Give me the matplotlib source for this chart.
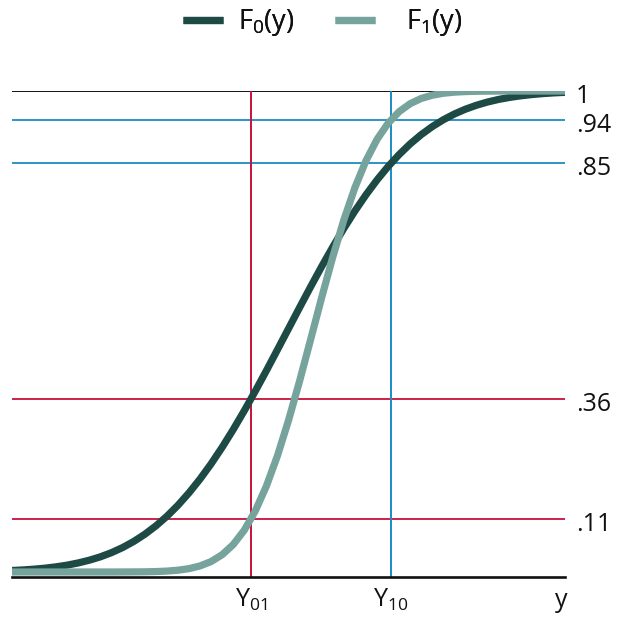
import matplotlib
matplotlib.use("Agg")
import matplotlib.pyplot as plt

plt.rcParams['font.family'] = ['Open Sans', 'DejaVu Sans']
plt.rcParams['mathtext.default'] = 'regular'

# x positions (arbitrary units, 0..10)
x = [round(i * 0.2, 1) for i in range(51)]

F0 = [0.0031, 0.0043, 0.0059, 0.0080, 0.0108, 0.0143, 0.0189, 0.0246,
      0.0316, 0.0403, 0.0508, 0.0634, 0.0783, 0.0957, 0.1157, 0.1386,
      0.1645, 0.1932, 0.2248, 0.2592, 0.2961, 0.3352, 0.3762, 0.4186,
      0.4621, 0.5059, 0.5497, 0.5929, 0.6351, 0.6756, 0.7141, 0.7504,
      0.7840, 0.8149, 0.8428, 0.8678, 0.8900, 0.9093, 0.9260, 0.9402,
      0.9522, 0.9622, 0.9704, 0.9771, 0.9825, 0.9867, 0.9900, 0.9926,
      0.9946, 0.9961, 0.9972]

F1 = [0.0000, 0.0000, 0.0000, 0.0000, 0.0000, 0.0000, 0.0000, 0.0000,
      0.0000, 0.0000, 0.0001, 0.0002, 0.0004, 0.0009, 0.0019, 0.0037,
      0.0070, 0.0126, 0.0217, 0.0359, 0.0570, 0.0868, 0.1270, 0.1786,
      0.2416, 0.3151, 0.3968, 0.4833, 0.5706, 0.6546, 0.7316, 0.7988,
      0.8548, 0.8992, 0.9328, 0.9570, 0.9736, 0.9845, 0.9912, 0.9953,
      0.9976, 0.9988, 0.9994, 0.9997, 0.9999, 1.0000, 1.0000, 1.0000,
      1.0000, 1.0000, 1.0000]

# quantile markers
Y01 = 4.322
Y10 = 6.854
red_levels = [0.36, 0.11]
blue_levels = [0.94, 0.85]
level_labels = {1.0: "1", 0.94: ".94", 0.85: ".85", 0.36: ".36", 0.11: ".11"}
series_labels = ["F$_0$(y)", "F$_1$(y)"]

C_F0 = "#1d4a45"
C_F1 = "#76a39c"
C_RED = "#c8103c"
C_BLUE = "#1b8cc4"
C_TXT = "#111111"

fig = plt.figure(figsize=(6.19, 6.18), dpi=100)
W, H = 619, 618
ax = fig.add_axes([12 / W, (H - 577) / H, (565 - 12) / W, (577 - 91) / H])
ax.set_xlim(0, 10)
ax.set_ylim(-0.0104, 1.0)

for s in ("top", "right", "left"):
    ax.spines[s].set_visible(False)
ax.spines["bottom"].set_linewidth(1.9)
ax.spines["bottom"].set_color(C_TXT)
ax.set_xticks([])
ax.set_yticks([])

ax.axhline(1.0, color=C_TXT, lw=1.4, zorder=1)
for lv in red_levels:
    ax.axhline(lv, color=C_RED, lw=1.3, zorder=1)
for lv in blue_levels:
    ax.axhline(lv, color=C_BLUE, lw=1.3, zorder=1)
ax.axvline(Y01, color=C_RED, lw=1.4, zorder=1)
ax.axvline(Y10, color=C_BLUE, lw=1.4, zorder=1)

l0, = ax.plot(x, F0, color=C_F0, lw=5.2, solid_capstyle="round",
              solid_joinstyle="round", zorder=3, label=series_labels[0])
l1, = ax.plot(x, F1, color=C_F1, lw=5.2, solid_capstyle="round",
              solid_joinstyle="round", zorder=4, label=series_labels[1])

for lv, txt in level_labels.items():
    ax.text(10.2, lv - 0.025, txt, ha="left", va="baseline", fontsize=18,
            color=C_TXT, clip_on=False)

ax.text(Y01, -0.073, "Y$_{01}$", ha="center", va="baseline", fontsize=18,
        color=C_TXT, clip_on=False)
ax.text(Y10, -0.073, "Y$_{10}$", ha="center", va="baseline", fontsize=18,
        color=C_TXT, clip_on=False)
ax.text(9.93, -0.073, "y", ha="center", va="baseline", fontsize=18,
        color=C_TXT, clip_on=False)

for handle, x_left, pad in ((l0, 183, 0.55), (l1, 335, 1.15)):
    leg = fig.legend(handles=[handle], loc="center left",
                     bbox_to_anchor=(x_left / W, 1 - 23 / H),
                     frameon=False, fontsize=19.5, handlelength=40 / 27,
                     handletextpad=pad, borderpad=0, borderaxespad=0)
    for t in leg.get_texts():
        t.set_color(C_TXT)
    for ln in leg.get_lines():
        ln.set_solid_capstyle("butt")
    fig.add_artist(leg)

fig.savefig("out.png", dpi=100)
